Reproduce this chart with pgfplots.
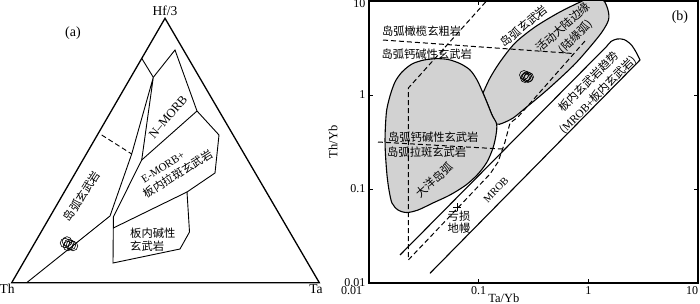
\documentclass[border=0pt]{standalone}
\usepackage{fontspec}
\setmainfont{Liberation Serif}
\newfontfamily\cjk{Noto Sans CJK SC}
\usepackage{pgfplots}
\pgfplotsset{compat=1.18}
\tikzset{
  zh/.style={font=\cjk\fontsize{11.3}{12.5}\selectfont, inner sep=0pt, text=black},
  lat/.style={font=\fontsize{13.5}{14}\selectfont, inner sep=0pt, text=black},
}
\begin{document}
\begin{tikzpicture}[x=1pt,y=1pt]
\useasboundingbox (0,0) rectangle (700,304);
%================ panel (a): ternary Hf/3 - Th - Ta (drawn in picture units)
\begin{axis}[at={(0pt,0pt)}, anchor=south west, scale only axis,
  width=340pt, height=304pt, xmin=0, xmax=340, ymin=0, ymax=304,
  y dir=reverse, hide axis, clip=false]
\addplot[black, line width=1.3pt, line join=miter] coordinates {(165,282.7) (319.3,282.7) (165,18.3) (11.7,282.7) (165,282.7)};
\addplot[black, line width=0.9pt] coordinates {(26.7,282.7) (110,216) (131.7,154) (153.3,77.3) (175,50) (197,111) (219,135) (215,173) (187,192) (189.5,232) (180,249) (113,263) (113.3,228) (113.3,217) (141.7,160) (153.3,77.3)};
\addplot[black, line width=0.9pt] coordinates {(141.7,58.3) (153.3,77.3)};
\addplot[black, line width=0.9pt] coordinates {(197,111) (141.7,160)};
\addplot[black, line width=0.9pt] coordinates {(113.3,228) (187,192)};
\addplot[black, line width=0.9pt, dash pattern=on 5pt off 3pt] coordinates {(101.7,135) (131.7,154)};
\addplot[only marks, mark=o, mark size=4.8pt, black, line width=0.6pt] coordinates {(65,243) (67,241.5) (69,244) (71,245) (73,246) (68,246)};
\node[lat] at (axis cs:165,11) {Hf/3};
\node[lat, font=\fontsize{14}{15}\selectfont] at (axis cs:73,33.3) {(a)};
\node[lat] at (axis cs:7,289) {Th};
\node[lat] at (axis cs:316,289) {Ta};
\node[zh, rotate=57] at (axis cs:81.7,196) {岛弧玄武岩};
\node[lat, font=\fontsize{12.5}{13}\selectfont, rotate=50] at (axis cs:168,117) {N--MORB};
\node[lat, font=\fontsize{11}{12}\selectfont, rotate=33] at (axis cs:163,167) {E-MORB+};
\node[zh, rotate=32] at (axis cs:178,174) {板内拉斑玄武岩};
\node[zh, anchor=west, align=left] at (axis cs:130,239.5) {板内碱性\\玄武岩};
\end{axis}
%================ panel (b): Th/Yb vs Ta/Yb
\begin{axis}[at={(369pt,21pt)}, anchor=south west, scale only axis,
  width=329pt, height=282pt,
  xmode=log, ymode=log, xmin=0.01, xmax=10, ymin=0.01, ymax=10,
  xtick={0.01,0.1,1,10}, ytick={0.01,0.1,1,10},
  xticklabels={\makebox[0pt][r]{0.01\kern7pt},0.1,1,\makebox[0pt][r]{10}},
  yticklabels={0.01,0.1,1,\smash{\raisebox{-7pt}{10}}},
  xminorticks=false, yminorticks=false,
  tick align=inside, major tick length=4pt,
  tick style={black, line width=0.8pt},
  axis line style={line width=1.2pt},
  ticklabel style={font=\fontsize{12}{13}\selectfont},
  xlabel={Ta/Yb}, ylabel={Th/Yb},
  label style={font=\fontsize{12.5}{13}\selectfont},
  xlabel style={at={(axis description cs:0.41,0)}, anchor=north, yshift=-7pt},
]
% active continental margin field
\addplot[fill=gray!35, draw=black, line width=1.1pt, smooth, tension=0.5] coordinates {
(0.1095,1.05) (0.1269,1.517) (0.1565,2.245) (0.2145,3.574) (0.3263,5.29) (0.529,7.45) (0.805,9.52) (1.035,10.76) (1.36,10.25) (1.511,8.02) (1.527,6.28) (1.332,4.68) (1.035,3.24) (0.7245,2.035) (0.42,1.13) (0.2536,0.692) (0.2056,0.569) (0.1667,0.5037) (0.1459,0.491) (0.1324,0.612) (0.1216,0.783) (0.1095,1.05)};
% oceanic island arc field
\addplot[fill=gray!35, draw=black, line width=1.1pt, smooth, tension=0.5] coordinates {
(0.0414,2.44) (0.0525,2.39) (0.0676,2.16) (0.0834,1.845) (0.0966,1.445) (0.1095,1.05) (0.1216,0.783) (0.1324,0.612) (0.1459,0.491) (0.1439,0.3755) (0.1351,0.273) (0.1191,0.1937) (0.0986,0.1444) (0.0766,0.1103) (0.0548,0.0864) (0.0383,0.0710) (0.0280,0.0598) (0.0221,0.0562) (0.0184,0.0598) (0.0162,0.0710) (0.01522,0.0976) (0.01459,0.141) (0.01414,0.230) (0.0140,0.332) (0.01414,0.4796) (0.0145,0.692) (0.01554,0.976) (0.01726,1.375) (0.02,1.757) (0.02466,2.137) (0.03174,2.357) (0.0414,2.44)};
% within-plate trend band
\addplot[black, line width=1.1pt] coordinates {(0.01918,0.01986) (1.48,3.32)};
\addplot[black, line width=1.1pt, smooth] coordinates {(1.48,3.32) (1.609,3.708) (1.825,3.94) (2.114,3.895) (2.449,3.445) (2.72,2.868) (2.959,2.357)};
\addplot[black, line width=1.1pt] coordinates {(2.959,2.357) (0.036,0.01269)};
% dashed boundaries
\addplot[black, line width=1pt, dash pattern=on 5pt off 3pt] coordinates {(0.932,3.753) (0.2284,0.5834) (0.1931,0.5037) (0.1738,0.3162) (0.1501,0.1937) (0.1269,0.1444) (0.02283,0.01757) (0.02283,1.187) (0.02466,1.309) (0.1179,10)};
\addplot[black, line width=1pt, dash pattern=on 5pt off 3pt] coordinates {(0.01342,3.846) (0.7295,2.763)};
\addplot[black, line width=1pt, dash pattern=on 5pt off 3pt] coordinates {(0.01208,0.3162) (0.1632,0.2665)};
% samples and depleted mantle
\addplot[only marks, mark=o, mark size=4.5pt, black, line width=0.6pt] coordinates {(0.259,1.633) (0.2702,1.554) (0.2759,1.593) (0.2818,1.517) (0.2645,1.517) (0.2877,1.554)};
\addplot[only marks, mark=+, mark size=4pt, black, line width=0.8pt] coordinates {(0.0638,0.0639)};
% labels
\node[zh] at (axis cs:0.0302,4.715) {岛弧橄榄玄粗岩};
\node[zh] at (axis cs:0.0336,2.731) {岛弧钙碱性玄武岩};
\node[zh, rotate=39] at (axis cs:0.259,5.42) {岛弧玄武岩};
\node[zh, rotate=42] at (axis cs:0.5875,5.29) {活动大陆边缘};
\node[zh, rotate=45] at (axis cs:0.772,4.14) {(陆缘弧)};
\node[lat, font=\fontsize{14}{15}\selectfont] at (axis cs:6.85,6.81) {(b)};
\node[zh] at (axis cs:0.0386,0.36) {岛弧钙碱性玄武岩};
\node[zh] at (axis cs:0.0336,0.2493) {岛弧拉斑玄武岩};
\node[zh, rotate=42] at (axis cs:0.0395,0.125) {大洋岛弧};
\node[zh, align=center] at (axis cs:0.0662,0.04456) {亏损\\地幔};
\node[lat, font=\fontsize{10.5}{11}\selectfont, rotate=47] at (axis cs:0.1439,0.0976) {MROB};
\node[zh, rotate=45] at (axis cs:1.0,1.385) {板内玄武岩趋势};
\node[zh, rotate=45] at (axis cs:1.233,1.0) {({\rmfamily MROB+}板内玄武岩)};
\end{axis}
\end{tikzpicture}
\end{document}
